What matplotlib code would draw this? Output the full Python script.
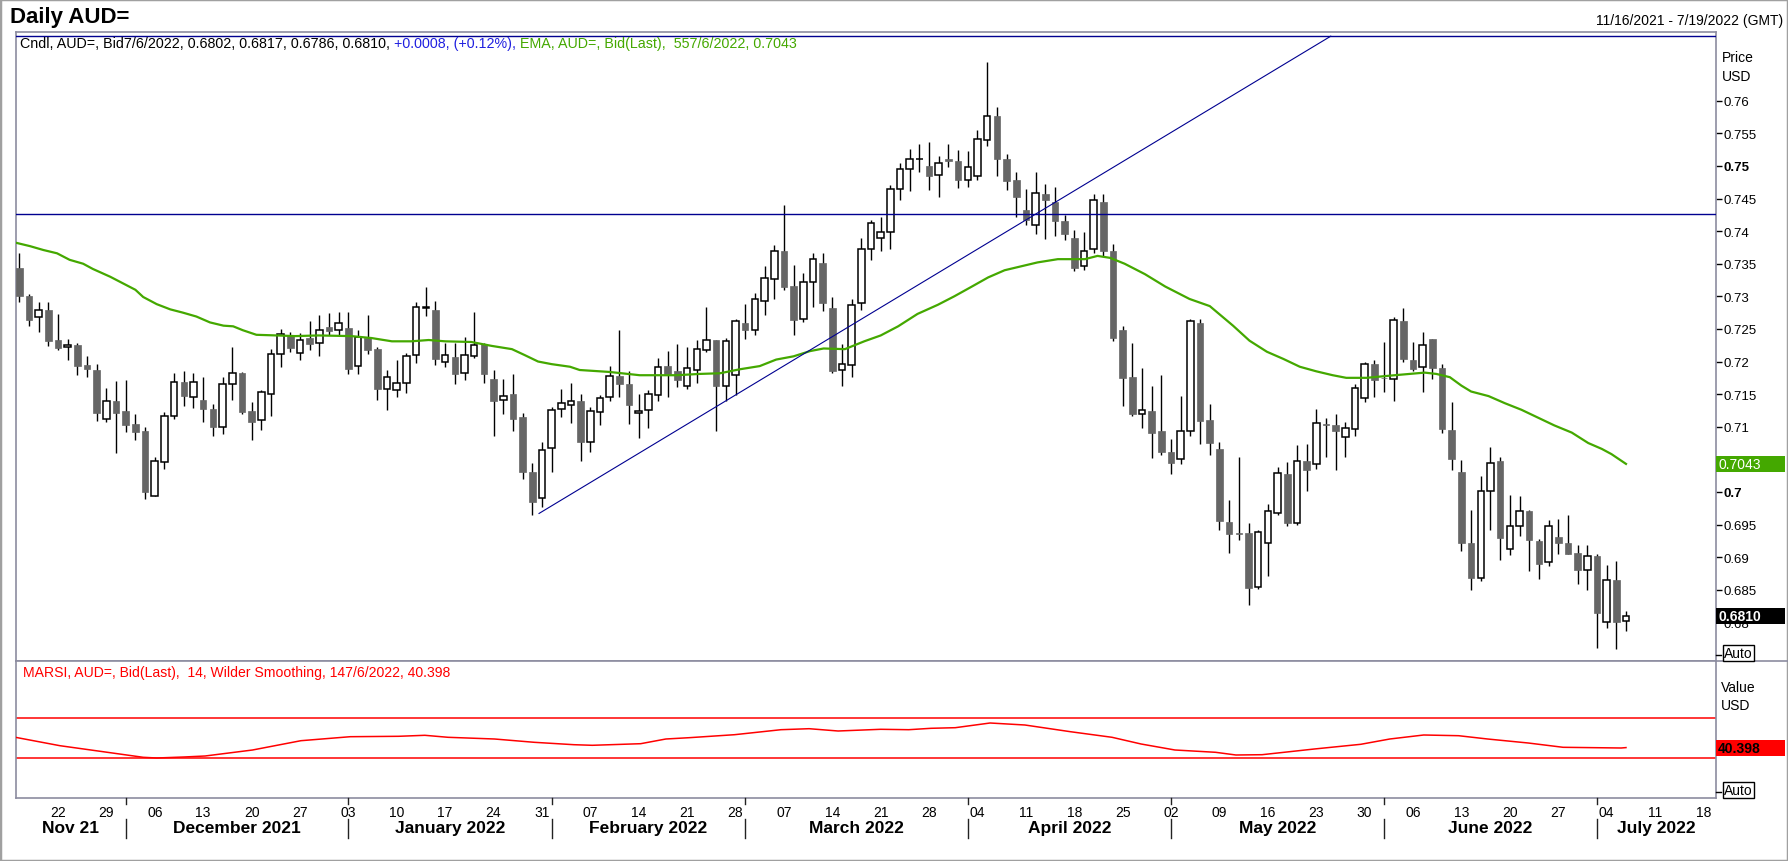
import numpy as np
import pandas as pd
import matplotlib
matplotlib.use("Agg")
import matplotlib.pyplot as plt
from matplotlib.patches import Rectangle
from matplotlib.lines import Line2D
from matplotlib.transforms import blended_transform_factory

plt.rcParams['font.family'] = ['Liberation Sans Narrow', 'Liberation Sans', 'DejaVu Sans']

# trading days on the axis (11/16/2021 - 7/19/2022), candles run to 7/6/2022
days = pd.bdate_range("2021-11-16", "2022-07-19")

opens = [0.7344, 0.7300, 0.7268, 0.7279, 0.7233, 0.7223, 0.7225, 0.7194, 0.7187, 0.7112,
         0.7139, 0.7124, 0.7104, 0.7093, 0.6994, 0.7046, 0.7117, 0.7168, 0.7146, 0.7141,
         0.7127, 0.7100, 0.7166, 0.7182, 0.7124, 0.7110, 0.7150, 0.7212, 0.7239, 0.7213,
         0.7236, 0.7228, 0.7253, 0.7249, 0.7251, 0.7193, 0.7236, 0.7219, 0.7158, 0.7157,
         0.7167, 0.7210, 0.7282, 0.7279, 0.7200, 0.7207, 0.7183, 0.7208, 0.7227, 0.7173,
         0.7141, 0.7150, 0.7115, 0.7030, 0.6990, 0.7067, 0.7127, 0.7133, 0.7139, 0.7076,
         0.7122, 0.7145, 0.7178, 0.7166, 0.7121, 0.7125, 0.7149, 0.7193, 0.7185, 0.7163,
         0.7187, 0.7217, 0.7233, 0.7162, 0.7179, 0.7259, 0.7249, 0.7293, 0.7327, 0.7369,
         0.7316, 0.7265, 0.7322, 0.7351, 0.7282, 0.7187, 0.7194, 0.7289, 0.7373, 0.7390,
         0.7399, 0.7465, 0.7496, 0.7510, 0.7500, 0.7486, 0.7510, 0.7507, 0.7478, 0.7485,
         0.7540, 0.7576, 0.7511, 0.7478, 0.7433, 0.7410, 0.7457, 0.7444, 0.7415, 0.7389,
         0.7346, 0.7373, 0.7444, 0.7370, 0.7248, 0.7176, 0.7119, 0.7124, 0.7094, 0.7061,
         0.7050, 0.7093, 0.7259, 0.7110, 0.7066, 0.6954, 0.6937, 0.6937, 0.6854, 0.6921,
         0.6967, 0.7028, 0.6952, 0.7047, 0.7043, 0.7104, 0.7103, 0.7085, 0.7097, 0.7144,
         0.7196, 0.7175, 0.7173, 0.7262, 0.7202, 0.7191, 0.7235, 0.7190, 0.7095, 0.7030,
         0.6922, 0.6868, 0.7001, 0.7047, 0.6912, 0.6947, 0.6971, 0.6925, 0.6892, 0.6931,
         0.6922, 0.6907, 0.6881, 0.6902, 0.6800, 0.6865, 0.6802]
highs = [0.7367, 0.7304, 0.7292, 0.7291, 0.7273, 0.7235, 0.7228, 0.7208, 0.7196, 0.7159,
         0.7170, 0.7172, 0.7119, 0.7099, 0.7053, 0.7122, 0.7182, 0.7185, 0.7183, 0.7176,
         0.7135, 0.7176, 0.7222, 0.7184, 0.7138, 0.7156, 0.7219, 0.7250, 0.7245, 0.7244,
         0.7262, 0.7271, 0.7274, 0.7276, 0.7276, 0.7248, 0.7271, 0.7222, 0.7187, 0.7202,
         0.7213, 0.7292, 0.7314, 0.7293, 0.7229, 0.7228, 0.7237, 0.7276, 0.7229, 0.7187,
         0.7173, 0.7181, 0.7121, 0.7044, 0.7077, 0.7130, 0.7158, 0.7167, 0.7150, 0.7130,
         0.7148, 0.7193, 0.7249, 0.7185, 0.7150, 0.7157, 0.7206, 0.7216, 0.7227, 0.7222,
         0.7233, 0.7284, 0.7233, 0.7236, 0.7265, 0.7288, 0.7305, 0.7347, 0.7379, 0.7440,
         0.7348, 0.7336, 0.7366, 0.7366, 0.7299, 0.7227, 0.7296, 0.7390, 0.7417, 0.7422,
         0.7471, 0.7505, 0.7526, 0.7534, 0.7537, 0.7515, 0.7534, 0.7524, 0.7523, 0.7555,
         0.7659, 0.7591, 0.7518, 0.7490, 0.7464, 0.7491, 0.7473, 0.7467, 0.7424, 0.7402,
         0.7399, 0.7457, 0.7457, 0.7380, 0.7254, 0.7229, 0.7190, 0.7162, 0.7179, 0.7081,
         0.7147, 0.7265, 0.7265, 0.7135, 0.7077, 0.6987, 0.7053, 0.6953, 0.6941, 0.6982,
         0.7039, 0.7046, 0.7072, 0.7074, 0.7127, 0.7114, 0.7120, 0.7108, 0.7166, 0.7200,
         0.7202, 0.7230, 0.7268, 0.7282, 0.7230, 0.7245, 0.7235, 0.7196, 0.7138, 0.7049,
         0.6972, 0.7025, 0.7069, 0.7053, 0.6995, 0.6994, 0.6973, 0.6928, 0.6957, 0.6959,
         0.6965, 0.6919, 0.6919, 0.6905, 0.6888, 0.6894, 0.6817]
lows = [0.7291, 0.7255, 0.7246, 0.7224, 0.7218, 0.7203, 0.7180, 0.7177, 0.7109, 0.7108,
        0.7060, 0.7092, 0.7080, 0.6989, 0.6993, 0.7035, 0.7112, 0.7132, 0.7129, 0.7108,
        0.7086, 0.7089, 0.7141, 0.7120, 0.7079, 0.7095, 0.7117, 0.7192, 0.7214, 0.7203,
        0.7217, 0.7209, 0.7241, 0.7241, 0.7181, 0.7181, 0.7212, 0.7141, 0.7126, 0.7146,
        0.7152, 0.7197, 0.7270, 0.7195, 0.7192, 0.7166, 0.7172, 0.7205, 0.7167, 0.7086,
        0.7119, 0.7094, 0.7020, 0.6965, 0.6977, 0.7030, 0.7115, 0.7106, 0.7048, 0.7062,
        0.7103, 0.7139, 0.7145, 0.7104, 0.7083, 0.7098, 0.7140, 0.7146, 0.7161, 0.7158,
        0.7167, 0.7214, 0.7093, 0.7140, 0.7148, 0.7235, 0.7240, 0.7271, 0.7296, 0.7309,
        0.7241, 0.7261, 0.7284, 0.7278, 0.7183, 0.7162, 0.7177, 0.7279, 0.7356, 0.7370,
        0.7372, 0.7447, 0.7462, 0.7491, 0.7463, 0.7453, 0.7499, 0.7466, 0.7468, 0.7479,
        0.7531, 0.7484, 0.7463, 0.7422, 0.7409, 0.7395, 0.7388, 0.7393, 0.7387, 0.7339,
        0.7341, 0.7366, 0.7362, 0.7232, 0.7132, 0.7116, 0.7098, 0.7052, 0.7056, 0.7027,
        0.7043, 0.7086, 0.7074, 0.7056, 0.6942, 0.6907, 0.6926, 0.6826, 0.6851, 0.6871,
        0.6964, 0.6947, 0.6950, 0.7001, 0.7035, 0.7054, 0.7033, 0.7054, 0.7086, 0.7138,
        0.7146, 0.7153, 0.7139, 0.7199, 0.7185, 0.7154, 0.7173, 0.7091, 0.7034, 0.6909,
        0.6849, 0.6863, 0.6941, 0.6895, 0.6904, 0.6932, 0.6878, 0.6866, 0.6886, 0.6905,
        0.6905, 0.6859, 0.6850, 0.6761, 0.6792, 0.6759, 0.6786]
closes = [0.7301, 0.7264, 0.7279, 0.7232, 0.7221, 0.7226, 0.7193, 0.7189, 0.7121, 0.7139,
          0.7121, 0.7103, 0.7092, 0.7000, 0.7048, 0.7117, 0.7169, 0.7147, 0.7169, 0.7127,
          0.7099, 0.7166, 0.7182, 0.7123, 0.7108, 0.7153, 0.7212, 0.7242, 0.7221, 0.7233,
          0.7227, 0.7248, 0.7247, 0.7259, 0.7189, 0.7237, 0.7218, 0.7158, 0.7177, 0.7167,
          0.7208, 0.7283, 0.7283, 0.7204, 0.7210, 0.7181, 0.7210, 0.7225, 0.7181, 0.7139,
          0.7147, 0.7112, 0.7030, 0.6985, 0.7064, 0.7125, 0.7136, 0.7139, 0.7076, 0.7124,
          0.7144, 0.7178, 0.7165, 0.7134, 0.7124, 0.7150, 0.7191, 0.7181, 0.7172, 0.7190,
          0.7219, 0.7233, 0.7162, 0.7231, 0.7262, 0.7248, 0.7296, 0.7328, 0.7369, 0.7315,
          0.7264, 0.7322, 0.7357, 0.7289, 0.7186, 0.7196, 0.7287, 0.7373, 0.7413, 0.7399,
          0.7465, 0.7496, 0.7510, 0.7511, 0.7485, 0.7505, 0.7507, 0.7479, 0.7498, 0.7541,
          0.7577, 0.7511, 0.7477, 0.7453, 0.7417, 0.7458, 0.7447, 0.7416, 0.7395, 0.7343,
          0.7369, 0.7448, 0.7370, 0.7236, 0.7175, 0.7120, 0.7126, 0.7091, 0.7062, 0.7045,
          0.7093, 0.7262, 0.7109, 0.7075, 0.6955, 0.6935, 0.6935, 0.6853, 0.6938, 0.6970,
          0.7029, 0.6952, 0.7047, 0.7033, 0.7105, 0.7102, 0.7093, 0.7098, 0.7159, 0.7196,
          0.7172, 0.7174, 0.7263, 0.7204, 0.7189, 0.7226, 0.7190, 0.7096, 0.7050, 0.6922,
          0.6868, 0.7001, 0.7044, 0.6929, 0.6947, 0.6970, 0.6926, 0.6889, 0.6947, 0.6922,
          0.6905, 0.6881, 0.6901, 0.6814, 0.6865, 0.6801, 0.6810]

# EMA (green), read at day positions
ema_pos = [-0.3, 1.1, 2.5, 3.9, 5.2, 6.6, 7.6, 9.4, 10.7, 12.0, 12.8, 14.2, 15.6, 16.9, 18.3,
           19.7, 21.1, 22.1, 23.1, 24.5, 26.6, 28.5, 30.9, 34.3, 36.4, 38.5, 40.5, 42.3, 44.0,
           46.7, 48.8, 50.9, 52.2, 53.6, 55.0, 56.9, 57.9, 61.0, 64.1, 67.9, 70.3, 72.4, 74.4,
           76.5, 78.2, 80.0, 81.7, 83.1, 85.3, 87.3, 89.0, 90.8, 92.8, 94.9, 96.6, 98.3, 100.1,
           101.8, 103.5, 105.2, 107.3, 110.1, 111.4, 112.7, 114.2, 116.3, 118.4, 120.9, 123.0,
           125.4, 127.1, 128.9, 130.6, 132.3, 134.0, 135.7, 137.1, 139.2, 142.1, 145.2, 146.4,
           147.8, 149.0, 150.0, 151.8, 153.5, 155.2, 156.9, 158.6, 160.4, 162.1, 163.5, 164.5,
           166.0]
ema_val = [0.7382, 0.7377, 0.7371, 0.7366, 0.7356, 0.7350, 0.7342, 0.7330, 0.7320, 0.7310,
           0.7299, 0.7288, 0.7280, 0.7275, 0.7269, 0.7260, 0.7255, 0.7254, 0.7248, 0.7241,
           0.7240, 0.7239, 0.7240, 0.7239, 0.7236, 0.7231, 0.7231, 0.7233, 0.7231, 0.7230,
           0.7224, 0.7219, 0.7210, 0.7200, 0.7196, 0.7192, 0.7187, 0.7184, 0.7179, 0.7179,
           0.7181, 0.7182, 0.7188, 0.7193, 0.7203, 0.7208, 0.7216, 0.7220, 0.7219, 0.7231,
           0.7240, 0.7254, 0.7273, 0.7287, 0.7300, 0.7314, 0.7329, 0.7340, 0.7346, 0.7352,
           0.7357, 0.7357, 0.7362, 0.7359, 0.7350, 0.7334, 0.7315, 0.7296, 0.7285, 0.7255,
           0.7232, 0.7215, 0.7204, 0.7192, 0.7185, 0.7179, 0.7175, 0.7175, 0.7179, 0.7183,
           0.7181, 0.7176, 0.7163, 0.7154, 0.7147, 0.7136, 0.7126, 0.7114, 0.7102, 0.7091,
           0.7075, 0.7066, 0.7058, 0.7043]

# RSI (lower panel)
rsi_pos = [-0.4, 4.2, 9.1, 12.8, 14.2, 17.0, 19.2, 24.1, 29.1, 34.2, 39.2, 41.9, 44.3, 49.1,
           53.2, 57.3, 59.2, 64.2, 66.8, 69.2, 73.9, 78.7, 81.6, 84.6, 89.0, 91.9, 94.2, 96.7,
           100.3, 103.9, 108.6, 112.9, 115.9, 119.4, 123.6, 125.7, 128.4, 133.8, 138.6, 141.6,
           145.1, 148.7, 151.7, 155.9, 159.5, 165.5, 166.0]
rsi_val = [50.7, 42.3, 35.7, 30.7, 30.0, 31.0, 32.0, 38.0, 47.3, 51.3, 51.7, 52.7, 50.7, 49.0,
           45.7, 43.3, 42.7, 44.3, 49.0, 50.3, 53.3, 58.3, 59.3, 57.0, 58.7, 58.3, 59.7, 60.3,
           65.0, 63.0, 56.3, 50.7, 44.0, 38.0, 35.7, 33.0, 33.3, 39.0, 43.7, 49.0, 53.0, 52.3,
           49.0, 45.0, 40.7, 40.0, 40.4]
rsi_bands = [70, 30]

# drawn lines
hline_level = 0.7427
top_level = 0.7699
trend_x = [53.7, 135.5]
trend_y = [0.6967, 0.7699]

W, H = 1788, 862
fig = plt.figure(figsize=(W / 100, H / 100), dpi=100)
fig.patch.set_facecolor('white')

frame_col = '#8c8ca0'
x_left, x_right = 15.5, 1716
ax = fig.add_axes([x_left / W, 1 - 662 / H, (x_right - x_left) / W, (662 - 33) / H])
ax2 = fig.add_axes([x_left / W, 1 - 799 / H, (x_right - x_left) / W, (799 - 662) / H], sharex=ax)

o = np.array(opens); h = np.array(highs); l = np.array(lows); c = np.array(closes)
xs = np.arange(len(o))
up = c >= o
body_lo = np.minimum(o, c)
body_h = np.maximum(np.abs(c - o), 0.00012)

ax.vlines(xs, l, h, color='black', lw=1.0, zorder=2)
ax.bar(xs[up], body_h[up], bottom=body_lo[up], width=0.68, facecolor='white',
       edgecolor='black', linewidth=1.1, zorder=3)
ax.bar(xs[~up], body_h[~up], bottom=body_lo[~up], width=0.68, facecolor='#666666',
       edgecolor='#666666', linewidth=0.5, zorder=3)

ax.plot(ema_pos, ema_val, color='#44a800', lw=1.6, zorder=4)
ax.axhline(hline_level, color='#000090', lw=1.0, zorder=4)
ax.axhline(top_level, color='#000090', lw=1.0, zorder=4)
ax.plot(trend_x, trend_y, color='#000090', lw=0.8, zorder=4)

ax.set_xlim(-0.39, 175.3)
ax.set_ylim(0.67407, 0.77054)

yt = np.round(np.arange(0.68, 0.7601, 0.005), 3)
ax.yaxis.tick_right()
ax.set_yticks(yt)
ax.set_yticklabels([('%.3f' % v).rstrip('0') for v in yt])
for t in ax.get_yticklabels():
    if t.get_text() in ('0.75', '0.7'):
        t.set_fontweight('bold')
ax.tick_params(axis='y', length=4, width=1, colors='black', labelsize=9.5, pad=1.5, direction='out')
ax.tick_params(axis='x', bottom=False, labelbottom=False)
for s in ax.spines.values():
    s.set_color(frame_col)
    s.set_linewidth(1.2)

# lower RSI panel
ax2.plot(rsi_pos, rsi_val, color='red', lw=1.1, zorder=3)
for b in rsi_bands:
    ax2.axhline(b, color='red', lw=1.1)
ax2.set_ylim(-10, 127)
ax2.set_yticks([])
for s in ax2.spines.values():
    s.set_color(frame_col)
    s.set_linewidth(1.2)

# date axis
pos = {d: i for i, d in enumerate(days)}
mondays = [d for d in days if d.weekday() == 0]
ax2.set_xticks([pos[d] for d in mondays])
ax2.set_xticklabels([d.strftime('%d') for d in mondays])
ax2.tick_params(axis='x', length=0, labelsize=10, pad=5)

month_first = []
for m in pd.period_range('2021-12', '2022-07', freq='M'):
    first = [d for d in days if d.year == m.year and d.month == m.month][0]
    month_first.append(pos[first])
month_names = ['Nov 21', 'December 2021', 'January 2022', 'February 2022', 'March 2022',
               'April 2022', 'May 2022', 'June 2022', 'July 2022']
edges = [-0.39] + month_first + [175.3]
bt = blended_transform_factory(ax2.transData, fig.transFigure)
for i, name in enumerate(month_names):
    fig.text((edges[i] + edges[i + 1]) / 2, 1 - 829 / H, name, transform=bt,
             ha='center', va='center', fontsize=12.5, fontweight='bold')
for mf in month_first:
    fig.add_artist(Line2D([mf, mf], [1 - 820 / H, 1 - 839 / H], transform=bt, color='#222222', lw=1))
    fig.add_artist(Line2D([mf, mf], [1 - 799 / H, 1 - 805 / H], transform=bt, color='#222222', lw=1))

# divider extends through the right column
fig.add_artist(Line2D([x_right / W, 1], [1 - 662 / H] * 2, color=frame_col, lw=1.2))


def value_box(axis, y, label, face, fg, bold):
    tr = blended_transform_factory(axis.transAxes, axis.transData)
    y0, y1 = axis.get_ylim()
    hh = 16 / axis.bbox.height * (y1 - y0)
    ww = 69 / axis.bbox.width
    axis.add_patch(Rectangle((1.0, y - hh / 2), ww, hh, transform=tr, facecolor=face,
                             edgecolor='none', clip_on=False, zorder=6))
    axis.text(1.0 + 2 / axis.bbox.width, y, label, transform=tr, ha='left', va='center',
              color=fg, fontsize=10, fontweight='bold' if bold else 'normal',
              clip_on=False, zorder=7)


value_box(ax, ema_val[-1], '0.7043', '#44a800', 'white', False)
value_box(ax, closes[-1], '0.6810', 'black', 'white', True)
value_box(ax2, rsi_val[-1], '40.398', '#ff0000', 'black', True)

# right column labels
fig.text(1722 / W, 1 - 58 / H, 'Price', fontsize=10, va='center', ha='left')
fig.text(1722 / W, 1 - 77 / H, 'USD', fontsize=10, va='center', ha='left')
fig.text(1721 / W, 1 - 688 / H, 'Value', fontsize=10, va='center', ha='left')
fig.text(1721 / W, 1 - 706 / H, 'USD', fontsize=10, va='center', ha='left')
for yy in (654, 791):
    fig.text(1724 / W, 1 - yy / H, 'Auto', fontsize=10, va='center', ha='left',
             bbox=dict(boxstyle='square,pad=0.1', facecolor='white', edgecolor='black', lw=1))
    fig.add_artist(Line2D([x_right / W, 1721 / W], [1 - (yy + 2) / H] * 2, color='black', lw=1))

# header texts
fig.text(10 / W, 1 - 18 / H, 'Daily AUD=', fontsize=16, fontweight='bold', va='center', ha='left')
fig.text(1783 / W, 1 - 21 / H, '11/16/2021 - 7/19/2022 (GMT)', fontsize=10, va='center', ha='right')

renderer = fig.canvas.get_renderer()
segments = [("Cndl, AUD=, Bid7/6/2022, 0.6802, 0.6817, 0.6786, 0.6810, ", 'black'),
            ("+0.0008, (+0.12%), ", '#2020e0'),
            ("EMA, AUD=, Bid(Last),  557/6/2022, 0.7043", '#44a800')]
cx = 20 / W
for txt, col in segments:
    t = fig.text(cx, 1 - 44 / H, txt, fontsize=10.3, color=col, va='center', ha='left')
    cx = t.get_window_extent(renderer).x1 / W

fig.text(23 / W, 1 - 673 / H, 'MARSI, AUD=, Bid(Last),  14, Wilder Smoothing, 147/6/2022, 40.398',
         fontsize=10.1, color='red', va='center', ha='left')

# outer frame
fig.add_artist(Rectangle((0, 0), 1, 1, transform=fig.transFigure, facecolor='none',
                         edgecolor='#a0a0a0', lw=2.5))

fig.savefig('out.png', dpi=100)
